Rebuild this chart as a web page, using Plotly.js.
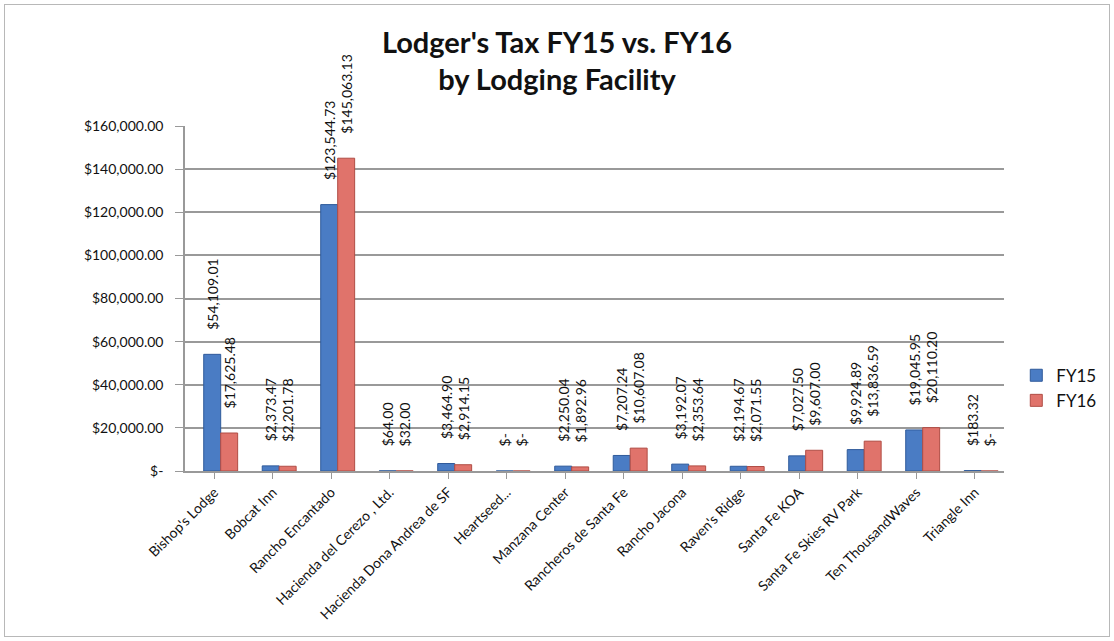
<!DOCTYPE html>
<html><head><meta charset="utf-8">
<script src="https://cdn.plot.ly/plotly-3.0.1.min.js"></script>
<style>
body{margin:0;padding:0;background:#fff;}
#wrap{position:relative;width:1114px;height:641px;}
#chart{width:1114px;height:641px;}
#frame{position:absolute;left:4px;top:4px;width:1104px;height:631px;border:1px solid #b8b8b8;pointer-events:none;}
</style></head>
<body>
<div id="wrap"><div id="chart"></div><div id="frame"></div></div>
<script>
const categories = ["Bishop's Lodge","Bobcat Inn","Rancho Encantado","Hacienda del Cerezo , Ltd.","Hacienda Dona Andrea de SF","Heartseed...","Manzana Center","Rancheros de Santa Fe","Rancho Jacona","Raven's Ridge","Santa Fe KOA","Santa Fe Skies RV Park","Ten ThousandWaves","Triangle Inn"];
const fy15 = [54109.01,2373.47,123544.73,64.00,3464.90,0,2250.04,7207.24,3192.07,2194.67,7027.50,9924.89,19045.95,183.32];
const fy16 = [17625.48,2201.78,145063.13,32.00,2914.15,0,1892.96,10607.08,2353.64,2071.55,9607.00,13836.59,20110.20,0];
const yTickVals = [0,20000,40000,60000,80000,100000,120000,140000,160000];
const yTickText = ["$-","$20,000.00","$40,000.00","$60,000.00","$80,000.00","$100,000.00","$120,000.00","$140,000.00","$160,000.00"];

const pad = '\u00a0\u00a0\u00a0\u00a0\u00a0\u00a0';
function fmt(v){ return pad + (v===0 ? '$-' : '$'+v.toLocaleString('en-US',{minimumFractionDigits:2,maximumFractionDigits:2})); }

const font = 'Lato, "Open Sans", sans-serif';
const traces = [
 {type:'bar',name:'FY15',x:categories,y:fy15,text:fy15.map(fmt),textposition:'outside',textangle:-90,constraintext:'none',
  width:0.29,offset:-0.18,
  cliponaxis:false,textfont:{family:font,size:14,color:'#111'},
  marker:{color:'#4a7cc4',line:{color:'#2f5a9a',width:1}}},
 {type:'bar',name:'FY16',x:categories,y:fy16,text:fy16.map(fmt),textposition:'outside',textangle:-90,constraintext:'none',
  width:0.29,offset:0.11,
  cliponaxis:false,textfont:{family:font,size:14,color:'#111'},
  marker:{color:'#e0736b',line:{color:'#b04d45',width:1}}}
];
const layout = {
 width:1114,height:641,
 margin:{l:185,r:89,t:126,b:170},
 paper_bgcolor:'#fff',plot_bgcolor:'#fff',
 title:{text:"<b>Lodger's Tax FY15 vs. FY16<br>by Lodging Facility</b>",x:0.5,xanchor:'center',yref:'container',y:0.918,yanchor:'middle',
  font:{family:font,size:29,color:'#111'}},
 barmode:'group',bargap:0.32,bargroupgap:0,
 showlegend:true,
 legend:{x:1.015,y:0.24,xanchor:'left',yanchor:'middle',font:{family:font,size:17,color:'#111'},tracegroupgap:6},
 xaxis:{tickangle:-45,tickfont:{family:font,size:14,color:'#111'},showline:true,linecolor:'#999',linewidth:1.5,
  ticks:'outside',ticklen:6,tickcolor:'#999',showgrid:false,automargin:false},
 yaxis:{range:[0,160000],tickvals:yTickVals,ticktext:yTickText,tickfont:{family:font,size:14,color:'#111'},
  showline:true,linecolor:'#999',linewidth:1.5,ticks:'outside',ticklen:8,tickcolor:'#999',ticklabelstandoff:9,
  showgrid:true,gridcolor:'#999',gridwidth:1.5,zeroline:false,automargin:false}
};
Plotly.newPlot('chart',traces,layout,{displayModeBar:false});
</script>
</body></html>
